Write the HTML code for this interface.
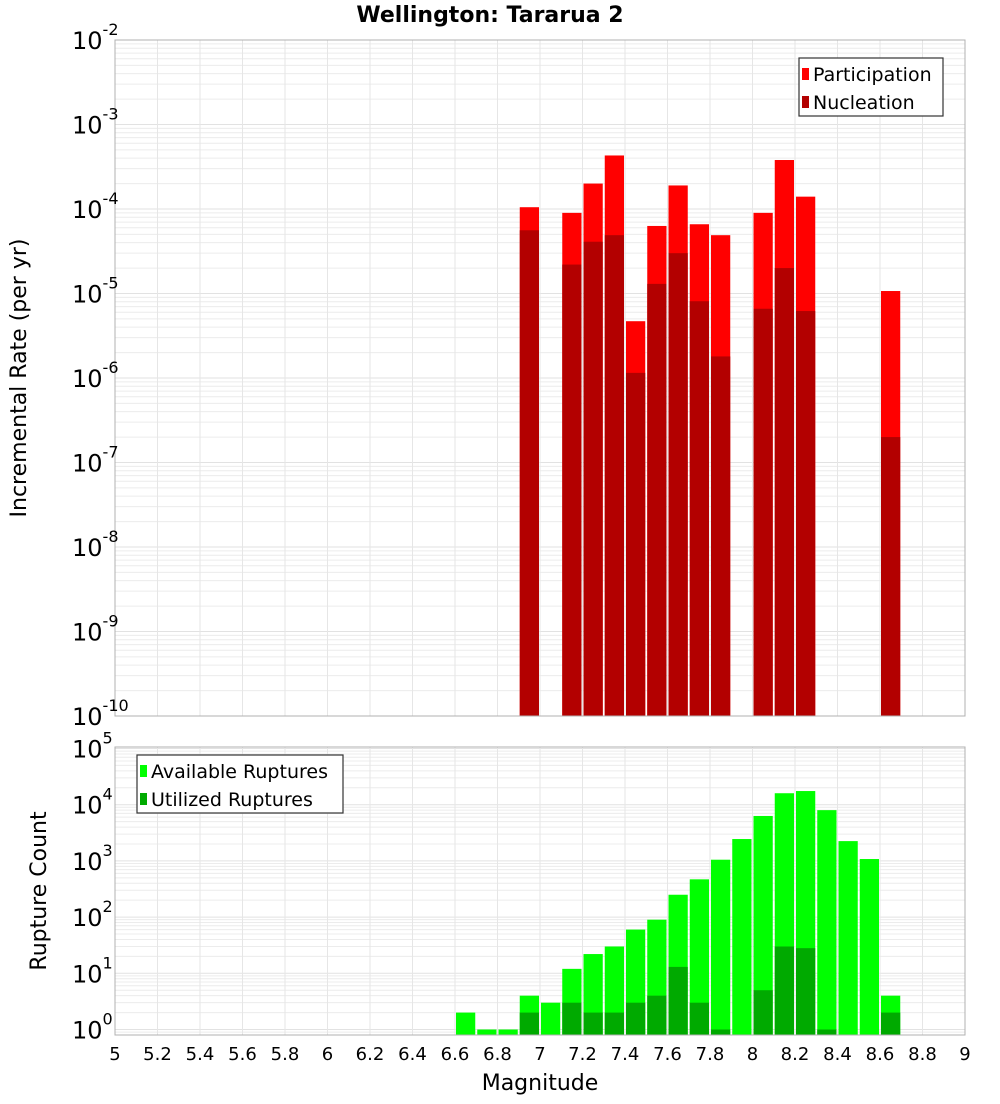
<!DOCTYPE html>
<html><head><meta charset="utf-8"><style>
body{margin:0;background:#fff;font-family:"DejaVu Sans","Liberation Sans",sans-serif;}
svg text{font-family:"DejaVu Sans","Liberation Sans",sans-serif;}
</style></head><body>
<svg id="c" width="1000" height="1100" xmlns="http://www.w3.org/2000/svg"></svg>
<script>
const binCenters=[6.65,6.75,6.85,6.95,7.05,7.15,7.25,7.35,7.45,7.55,7.65,7.75,7.85,7.95,8.05,8.15,8.25,8.35,8.45,8.55,8.65];
const participation=[0,0,0,1.05e-4,0,9e-5,2e-4,4.3e-4,4.7e-6,6.3e-5,1.9e-4,6.6e-5,4.9e-5,0,9e-5,3.8e-4,1.4e-4,0,0,0,1.07e-5];
const nucleation=[0,0,0,5.6e-5,0,2.2e-5,4.1e-5,4.9e-5,1.15e-6,1.3e-5,3e-5,8.1e-6,1.8e-6,0,6.6e-6,2e-5,6.2e-6,0,0,0,2e-7];
const available=[2,1,1,4,3,12,22,30,60,90,250,470,1050,2450,6300,16000,17500,8000,2250,1080,4];
const utilized=[0,0,0,2,0,3,2,2,3,4,13,3,1,0,5,30,28,1,0,0,2];
const xTicks=[5,5.2,5.4,5.6,5.8,6,6.2,6.4,6.6,6.8,7,7.2,7.4,7.6,7.8,8,8.2,8.4,8.6,8.8,9];
const topExps=[-10,-9,-8,-7,-6,-5,-4,-3,-2];
const botExps=[0,1,2,3,4,5];

const svg=document.getElementById('c');
const NS='http://www.w3.org/2000/svg';
function el(tag,attrs,parent){const e=document.createElementNS(NS,tag);for(const k in attrs)e.setAttribute(k,attrs[k]);(parent||svg).appendChild(e);return e;}
const X0=115,X1=965;
const x=m=>X0+(m-5)/4*(X1-X0);
const T0=40,T1=716;
const yTop=v=>T1-(Math.log10(v)+10)*84.5;
const B0=747,B1=1035;
const yBot=v=>1029.5-Math.log10(v)*56.2;

function panel(top,bot,yf,exps,name){
  const g=el('g',{});
  
  
  for(let i=0;i<exps.length;i++){
    for(let k=1;k<10;k++){
      const y=yf(k*Math.pow(10,exps[i]));
      if(y<top||y>bot)continue;
      el('line',{x1:X0,x2:X1,y1:y,y2:y,stroke:k==1?'#e2e2e2':'#ececec','stroke-width':1},g);
    }
  }
  xTicks.forEach(t=>{el('line',{x1:x(t),x2:x(t),y1:top,y2:bot,stroke:'#e6e6e6','stroke-width':1},g);});
}
panel(T0,T1,yTop,topExps,'top');
panel(B0,B1,yBot,[-1].concat(botExps),'bottom');

const w=(X1-X0)/40;
function bars(vals,yf,base,color,name){
  vals.forEach((v,i)=>{
    if(!v)return;
    const xl=x(binCenters[i]-0.05)+1;
    const yt=yf(v);
    const r=el('rect',{x:xl,y:yt,width:w-2,height:base-yt,fill:color});
    
    
  });
}
bars(participation,yTop,T1,'#ff0000','participation');
bars(nucleation,yTop,T1,'#b30000','nucleation');
bars(available,yBot,B1,'#00ff00','available');
bars(utilized,yBot,B1,'#00aa00','utilized');

el('rect',{x:X0,y:T0,width:X1-X0,height:T1-T0,fill:'none',stroke:'#b0b0b0'});
el('rect',{x:X0,y:B0,width:X1-X0,height:B1-B0,fill:'none',stroke:'#b0b0b0'});

function ylabels(exps,yf){
  exps.forEach(e=>{
    const y=yf(Math.pow(10,e));
    const t=el('text',{x:72,y:y+9,'font-size':24,fill:'#000'});
    
    
    t.textContent='10';
    const s=el('tspan',{dy:-14,'font-size':16},t);
    s.textContent=String(e);
  });
}
ylabels(topExps,yTop);
ylabels(botExps,yBot);

xTicks.forEach(t=>{
  const tx=el('text',{x:x(t),y:1060,'font-size':18,'text-anchor':'middle',fill:'#000'});
  
  
  tx.textContent=String(t);
});

let tt=el('text',{x:490,y:22,'font-size':22,'font-weight':'bold','text-anchor':'middle'});

tt.textContent='Wellington: Tararua 2';
let xl=el('text',{x:540,y:1090,'font-size':22,'text-anchor':'middle'});

xl.textContent='Magnitude';
let yl1=el('text',{x:0,y:0,'font-size':22,'text-anchor':'middle',transform:'translate(26,378) rotate(-90)'});

yl1.textContent='Incremental Rate (per yr)';
let yl2=el('text',{x:0,y:0,'font-size':22,'text-anchor':'middle',transform:'translate(46,891) rotate(-90)'});

yl2.textContent='Rupture Count';

function legend(lx,ly,lw,items,name){
  const g=el('g',{});
  
  
  el('rect',{x:lx,y:ly,width:lw,height:58,fill:'#fff',stroke:'#333','stroke-width':1.2},g);
  items.forEach((it,i)=>{
    el('rect',{x:lx+3,y:ly+10+i*28,width:7,height:12,fill:it[1]},g);
    const t=el('text',{x:lx+14,y:ly+23+i*28,'font-size':19},g);
    t.textContent=it[0];
  });
}
legend(799,58,144,[['Participation','#ff0000'],['Nucleation','#b30000']],'rate-legend');
legend(137,755,206,[['Available Ruptures','#00ff00'],['Utilized Ruptures','#00aa00']],'count-legend');
</script>
</body></html>
